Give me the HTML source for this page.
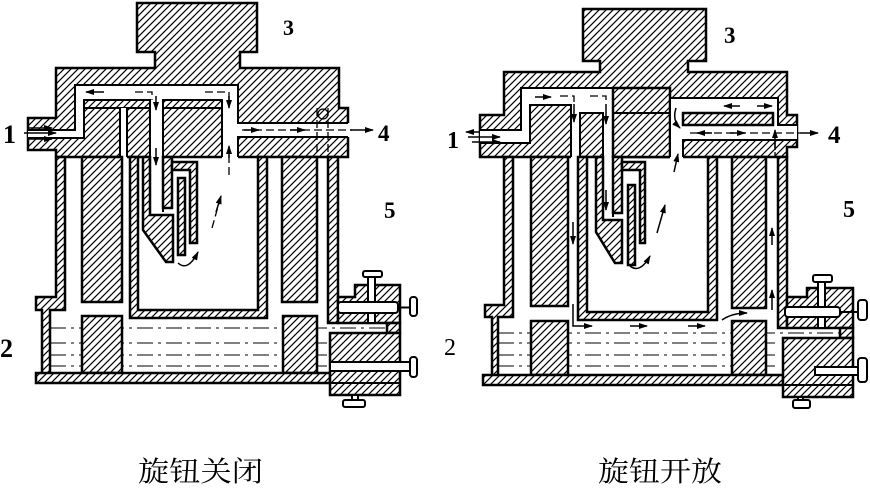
<!DOCTYPE html>
<html><head><meta charset="utf-8">
<style>
html,body{margin:0;padding:0;background:#fff;}
svg{display:block;}
.n{font-family:"Liberation Serif",serif;font-weight:bold;fill:#000;}
.r{font-family:"Liberation Serif",serif;fill:#000;}
.c{font-family:"Liberation Serif","Noto Serif CJK SC",serif;font-size:28px;fill:#000;}
.h{fill:url(#h);stroke:#000;stroke-width:2.5;stroke-linejoin:miter;}
.w{fill:#fff;stroke:none;}
.s{fill:none;stroke:#000;stroke-width:2;}
.wb{fill:#fff;stroke:#000;stroke-width:2;}
.ar{fill:none;stroke:#000;stroke-width:1.5;marker-end:url(#a);}
.da{fill:none;stroke:#000;stroke-width:1.3;stroke-dasharray:8 4;}
.liq{fill:none;stroke:#000;stroke-width:1.1;stroke-dasharray:16 5 3 5;}
</style></head><body>
<svg width="870" height="493" viewBox="0 0 870 493" xmlns="http://www.w3.org/2000/svg">
<defs>
<pattern id="h" x="0" y="0" width="7" height="7" patternUnits="userSpaceOnUse">
<rect x="0" y="0" width="7" height="7" fill="#fff"/>
<path d="M0,7 L7,0 M-2,2 L2,-2 M5,9 L9,5" stroke="#000" stroke-width="1.2" fill="none"/>
</pattern>
<marker id="a" markerWidth="9" markerHeight="6" refX="8" refY="3" orient="auto" markerUnits="userSpaceOnUse"><path d="M0,0 L9,3 L0,6 z" fill="#000"/></marker>
</defs>

<!-- ================= LEFT FIGURE ================= -->
<path class="liq" d="M50,328 H387 M50,343 H330 M50,355 H330 M50,366 H330"/>

<path class="h" d="M137,3 H257 V52 H240 V68 H339 V108 H348 V157 H56 V150 H28 V118 H56 V68 H155 V52 H137 Z"/>
<path class="w" d="M28,130 H75 V85 H238 V123 H350 V137 H238 V159 H222 V100 H163 V212 H150 V100 H84 V138 H28 Z"/>
<path class="s" d="M28,130 H75 V85 H238 V123 H348 M348,137 H238 V157 M222,157 V100 H163 V212 M150,212 V100 H84 V138 H28"/>
<path class="s" d="M84,108 H150 M163,108 H222" />
<rect x="120" y="108" width="7" height="51" class="w"/>
<path class="s" d="M120,108 V157 M127,108 V157" stroke-width="1.5"/>
<path class="da" d="M317,108 V157 M328,108 V157"/>
<circle cx="323" cy="114" r="5" fill="none" stroke="#000" stroke-width="1.3"/>

<path class="h" d="M56,157 H65 V310 H50 V378 H42 V310 H36 V297 H56 Z"/>
<rect class="h" x="82" y="157" width="40" height="145"/>
<path class="h" d="M130,157 H138 V310 H258 V157 H267 V318 H130 Z"/>
<rect class="h" x="282" y="157" width="35" height="145"/>
<rect class="h" x="328" y="157" width="10" height="166"/>
<rect class="h" x="82" y="316" width="40" height="57"/>
<rect class="h" x="283" y="316" width="34" height="57"/>
<rect class="h" x="36" y="373" width="294" height="10"/>
<!-- valve -->
<path class="h" d="M338,297 H355 V285 H400 V323 H338 Z"/>
<rect class="h" x="387" y="323" width="13" height="10"/>
<rect class="h" x="330" y="333" width="70" height="62"/>
<path class="s" d="M330,383 H400"/>
<rect class="wb" x="363" y="271" width="19" height="6" rx="2"/>
<rect class="wb" x="368" y="277" width="7" height="46" stroke-width="1.5"/>
<rect class="wb" x="338" y="302" width="60" height="11" rx="3"/>
<path class="s" d="M398,307.5 H410" stroke-width="3"/>
<rect class="wb" x="410" y="297" width="7" height="19" rx="3" stroke-width="2.5"/>
<rect class="wb" x="330" y="362" width="80" height="9"/>
<rect class="wb" x="410" y="357" width="7" height="20" rx="3" stroke-width="2.5"/>
<rect class="wb" x="352" y="395" width="6" height="6"/>
<rect class="wb" x="343" y="400" width="22" height="7" rx="2"/>

<path class="h" d="M143,157 H150 V215 H173 V262 H166 L143,230 Z"/>
<rect class="h" x="163" y="157" width="9" height="51"/>
<path class="h" d="M172,162 H197 V243 H190 V170 H172 Z"/>
<rect class="h" x="178" y="178" width="7" height="77"/>

<path class="ar" d="M28,128 H52"/>
<path class="ar" d="M24,133 H56"/>
<path class="ar" d="M28,139 H52"/>
<path class="ar" d="M104,92 H86"/>
<path class="da" d="M135,92 H152 V100"/>
<path class="ar" d="M156,96 V110"/>
<path class="da" d="M205,92 H229 V100"/>
<path class="ar" d="M229,96 V108"/>
<path class="ar" d="M156,148 V165"/>
<path class="da" d="M229,175 V150"/>
<path class="ar" d="M229,158 V146"/>
<path class="da" d="M242,130 H352"/>
<path class="ar" d="M244,130 H259"/>
<path class="ar" d="M290,130 H305"/>
<path class="ar" d="M350,130 H373"/>
<path class="da" d="M212,228 L219,203"/>
<path class="ar" d="M216,212 L221,196"/>
<path class="ar" d="M178,263 Q188,272 198,252"/>

<text class="n" x="3" y="143" font-size="26">1</text>
<text class="n" x="283" y="35" font-size="22">3</text>
<text class="n" x="378" y="141" font-size="23">4</text>
<text class="n" x="384" y="218" font-size="23">5</text>
<text class="n" x="0" y="357" font-size="26">2</text>

<!-- ================= RIGHT FIGURE ================= -->
<path class="liq" d="M498,333 H840 M498,343 H778 M498,355 H778 M498,366 H778"/>

<path class="h" d="M583,9 H706 V61 H688 V72 H787 V115 H797 V147 H787 V157 H480 V115 H504 V72 H600 V61 H583 Z"/>
<path class="w" d="M480,130 H521 V88 H613 V217 H603 V113 H580 V159 H571 V105 H530 V143 H480 Z"/>
<path class="s" d="M480,130 H521 V88 H613 V217 M603,217 V113 H580 V157 M571,157 V105 H530 V143 H480"/>
<rect class="h" x="613" y="88" width="57" height="69"/>
<path class="s" d="M613,113 H670"/>
<path class="w" d="M670,98 H778 V125 H797 V140 H683 V159 H670 Z"/>
<path class="s" d="M670,157 V98 H778 V125 H797 M797,140 H683 V157"/>
<rect class="h" x="683" y="113" width="90" height="12"/>
<path class="da" d="M775,140 V157"/>

<path class="h" d="M504,157 H513 V317 H498 V378 H492 V317 H485 V305 H504 Z"/>
<rect class="h" x="531" y="157" width="37" height="149"/>
<path class="h" d="M578,157 H587 V312 H708 V157 H717 V320 H578 Z"/>
<rect class="h" x="732" y="157" width="34" height="151"/>
<rect class="h" x="778" y="157" width="9" height="171"/>
<rect class="h" x="531" y="321" width="37" height="54"/>
<rect class="h" x="732" y="321" width="34" height="54"/>
<rect class="h" x="483" y="375" width="300" height="10"/>
<!-- valve -->
<path class="h" d="M787,297 H807 V288 H853 V328 H787 Z"/>
<rect class="h" x="840" y="328" width="13" height="10"/>
<rect class="h" x="783" y="338" width="70" height="59"/>
<path class="s" d="M783,385 H853"/>
<rect class="wb" x="813" y="275" width="19" height="7" rx="2"/>
<rect class="wb" x="818" y="282" width="7" height="46" stroke-width="1.5"/>
<rect class="wb" x="785" y="307" width="55" height="10" rx="3"/>
<path class="s" d="M840,312 H858" stroke-width="3"/>
<rect class="wb" x="858" y="300" width="9" height="20" rx="3" stroke-width="2.5"/>
<rect class="wb" x="815" y="367" width="45" height="8"/>
<rect class="wb" x="858" y="358" width="9" height="24" rx="3" stroke-width="2.5"/>
<rect class="wb" x="798" y="397" width="5" height="5"/>
<rect class="wb" x="793" y="400" width="17" height="8" rx="2"/>

<path class="h" d="M596,157 H603 V220 H622 V263 H615 L596,232 Z"/>
<rect class="h" x="613" y="157" width="9" height="56"/>
<path class="h" d="M622,162 H645 V243 H640 V170 H622 Z"/>
<rect class="h" x="628" y="185" width="7" height="80"/>

<path class="ar" d="M468,137 H500"/>
<path class="ar" d="M472,142 H500"/>
<path class="ar" d="M480,132 H466"/>
<path class="ar" d="M535,97 H551"/>
<path class="da" d="M560,96 H574 V104"/>
<path class="ar" d="M574,104 V122"/>
<path class="da" d="M590,96 H606 V104"/>
<path class="ar" d="M606,104 V124"/>
<path class="ar" d="M606,190 V210"/>
<path class="ar" d="M573,222 V244"/>
<path class="ar" d="M573,304 V326 H592"/>
<path class="ar" d="M630,326 H647"/>
<path class="ar" d="M688,326 H705"/>
<path class="ar" d="M722,320 Q732,313 747,313"/>
<path class="ar" d="M772,310 V290"/>
<path class="ar" d="M772,245 V228"/>
<path class="ar" d="M775,150 V130"/>
<path class="ar" d="M740,106 H724"/>
<path class="ar" d="M757,106 H772"/>
<path class="ar" d="M676,108 Q672,120 680,128"/>
<path class="da" d="M690,133 H800"/>
<path class="ar" d="M712,133 H697"/>
<path class="ar" d="M730,133 H745"/>
<path class="ar" d="M800,133 H818"/>
<path class="ar" d="M674,172 L678,154"/>
<path class="ar" d="M657,233 L665,205"/>
<path class="ar" d="M630,266 Q640,274 650,256"/>

<text class="n" x="447" y="148" font-size="24">1</text>
<text class="n" x="724" y="43" font-size="23">3</text>
<text class="n" x="828" y="143" font-size="25">4</text>
<text class="n" x="843" y="217" font-size="24">5</text>
<text class="r" x="444" y="355" font-size="24">2</text>

<text class="c" x="138" y="481" textLength="125" lengthAdjust="spacingAndGlyphs">旋钮关闭</text>
<text class="c" x="598" y="481" textLength="124" lengthAdjust="spacingAndGlyphs">旋钮开放</text>
</svg>
</body></html>
